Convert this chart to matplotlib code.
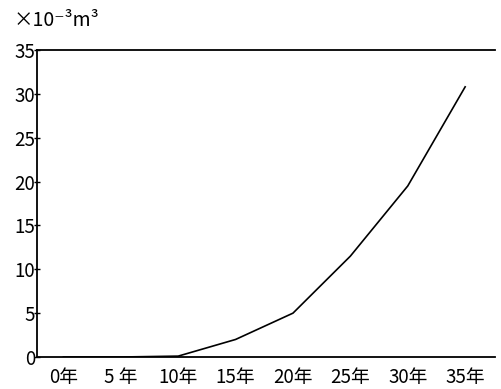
import matplotlib.pyplot as plt

plt.rcParams['font.family'] = ['Noto Sans CJK JP', 'DejaVu Sans']

# data
years = [0, 5, 10, 15, 20, 25, 30, 35]
volume = [0, 0, 0.1, 2.0, 5.0, 11.5, 19.5, 30.8]
x_labels = ['0年', '5 年', '10年', '15年', '20年', '25年', '30年', '35年']
y_ticks = [0, 5, 10, 15, 20, 25, 30, 35]

fig = plt.figure(figsize=(5.02, 3.89), dpi=100)
ax = fig.add_axes([37 / 502, 1 - 357 / 389, (495 - 37) / 502, (357 - 50) / 389])

ax.plot(years, volume, color='black', linewidth=1.2)

ax.set_xlim(-2.3, 37.6)
ax.set_ylim(0, 35)
ax.set_xticks(years)
ax.set_xticklabels(x_labels, fontsize=13.5)
ax.tick_params(axis='x', length=0, pad=7)
ax.set_yticks(y_ticks)
ax.set_yticklabels([str(v) for v in y_ticks], fontsize=13.5)
ax.tick_params(axis='y', direction='inout', length=5, width=1, pad=-1)

ax.spines['right'].set_visible(False)
for s in ['top', 'left', 'bottom']:
    ax.spines[s].set_linewidth(1.3)

fig.text(14 / 502, 1 - 20 / 389, '×10⁻³m³', fontsize=14, va='center', ha='left')

fig.savefig('out.png', dpi=100)
